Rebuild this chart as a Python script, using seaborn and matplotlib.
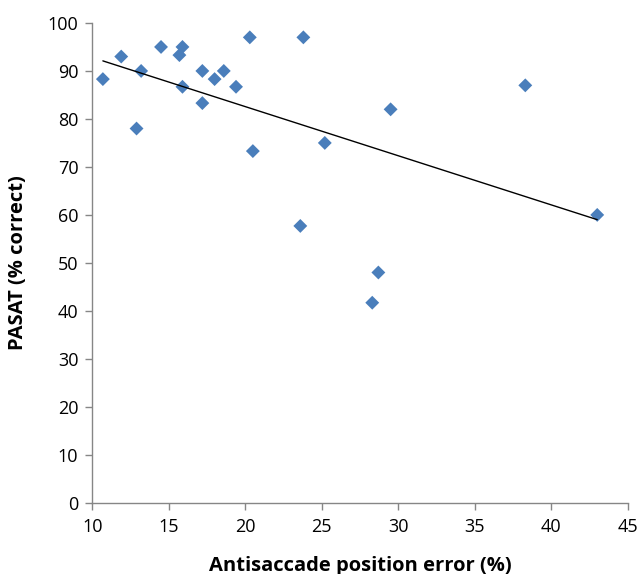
import numpy as np
import pandas as pd
import matplotlib
matplotlib.use("Agg")
import matplotlib.pyplot as plt
import seaborn as sns

antisaccade_error = [10.7, 11.9, 13.2, 12.9, 14.5, 15.9, 15.7, 15.9, 17.2, 17.2, 18.0,
                     18.6, 19.4, 20.3, 20.5, 23.8, 23.6, 25.2, 29.5, 28.7, 28.3, 38.3, 43.0]
pasat_correct = [88.3, 93.0, 90.0, 78.0, 95.0, 95.0, 93.3, 86.7, 90.0, 83.3, 88.3,
                 90.0, 86.7, 97.0, 73.3, 97.0, 57.7, 75.0, 82.0, 48.0, 41.7, 87.0, 60.0]

df = pd.DataFrame({"error": antisaccade_error, "pasat": pasat_correct})

sns.set_style("white")
plt.rcParams['font.family'] = ['Open Sans', 'DejaVu Sans']

fig = plt.figure(figsize=(6.4, 5.74), dpi=100)
ax = fig.add_axes([0.144, 0.124, 0.837, 0.836])

sns.regplot(data=df, x="error", y="pasat", ax=ax, ci=None, marker="D",
            scatter_kws={"color": "#4a7ebb", "s": 50, "edgecolor": "none", "alpha": 1},
            line_kws={"color": "black", "linewidth": 1})

ax.set_xlim(10, 45)
ax.set_ylim(0, 100)
ax.set_xticks(range(10, 46, 5))
ax.set_yticks(range(0, 101, 10))

for s in ["top", "right"]:
    ax.spines[s].set_visible(False)
for s in ["left", "bottom"]:
    ax.spines[s].set_color("#868686")
    ax.spines[s].set_linewidth(1)

ax.tick_params(axis="both", direction="out", length=5, width=1, color="#868686",
               labelsize=13, labelcolor="black", left=True, bottom=True)
ax.tick_params(axis="x", pad=6)
ax.tick_params(axis="y", pad=5)

ax.set_xlabel("Antisaccade position error (%)", fontsize=14.5, fontweight="bold",
              labelpad=14, color="black")
ax.set_ylabel("PASAT (% correct)", fontsize=14.5, fontweight="bold",
              labelpad=14, color="black")

fig.savefig("out.png", dpi=100)
